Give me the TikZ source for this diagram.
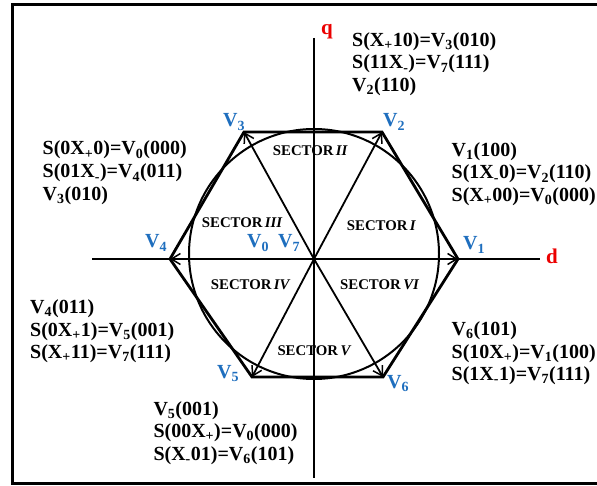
\documentclass[tikz,border=0pt]{standalone}
\usepackage{fontspec}
\setmainfont{Liberation Serif}
\usetikzlibrary{arrows.meta}
\definecolor{vblue}{RGB}{30,110,190}
\definecolor{axred}{RGB}{235,0,0}
\newcommand\sbs[1]{\textsubscript{#1}}
\begin{document}
\begin{tikzpicture}[x=1pt,y=-1pt,
 eq/.style={anchor=base west, inner sep=0pt, font=\fontsize{20}{22.7}\selectfont\bfseries},
 vlab/.style={anchor=base west, inner sep=0pt, text=vblue, font=\fontsize{20}{20}\selectfont\bfseries},
 sec/.style={anchor=base west, inner sep=0pt, font=\fontsize{14.8}{15}\selectfont\bfseries},
 axlab/.style={text=axred, inner sep=0pt, anchor=base, font=\fontsize{21}{21}\selectfont\bfseries},
 hexedge/.style={line width=2.8pt, line join=miter},
 vec/.style={line width=1.8pt, -{Straight Barb[length=9pt,width=11pt,line width=1.5pt]}},
 axisline/.style={line width=1.4pt},
 frame/.style={line width=3pt}
 ]
\useasboundingbox (0,0) rectangle (597,486);
\draw[frame] (600,4.5) -- (12,4.5) -- (12,483.5) -- (600,483.5);

\coordinate (O) at (314,259);
\coordinate (v1) at (458,259);
\coordinate (v2) at (382,132);
\coordinate (v3) at (244,132);
\coordinate (v4) at (170,259);
\coordinate (v5) at (252,377);
\coordinate (v6) at (383,377);
\coordinate (dL) at (92,259);
\coordinate (dR) at (540,259);
\coordinate (qT) at (314,38);
\coordinate (qB) at (314,478);

\draw[axisline] (dL) -- (dR);
\draw[axisline] (qT) -- (qB);
\draw[line width=2pt] (314,254) circle[radius=125];
\draw[hexedge] (v1) -- (v2) -- (v3) -- (v4) -- (v5) -- (v6) -- cycle;
\foreach \v in {v1,v2,v3,v4,v5,v6} \draw[vec] (O) -- (\v);

\node[axlab] (q) at (327,35) {q};
\node[axlab] (d) at (552,264) {d};

\node[vlab] (l1) at (463,250) {V\sbs{1}};
\node[vlab] (l2) at (383,127) {V\sbs{2}};
\node[vlab] (l3) at (223,127) {V\sbs{3}};
\node[vlab] (l4) at (145,248) {V\sbs{4}};
\node[vlab] (l5) at (217,378) {V\sbs{5}};
\node[vlab] (l6) at (387,388) {V\sbs{6}};
\node[vlab] (l0) at (247,248) {V\sbs{0}};
\node[vlab] (l7) at (278,248) {V\sbs{7}};

\node[sec] (s1) at (346.7,230.5) {SECTOR\,\textit{I}};
\node[sec] (s2) at (272.7,156) {SECTOR\,\textit{II}};
\node[sec] (s3) at (201.7,228) {SECTOR\,\textit{III}};
\node[sec] (s4) at (210.7,290) {SECTOR\,\textit{IV}};
\node[sec] (s5) at (277.3,355) {SECTOR\,\textit{V}};
\node[sec] (s6) at (340,290) {SECTOR\,\textit{VI}};

% top block
\node[eq] (a1) at (352,46.5) {S(X\sbs{+}10)=V\sbs{3}(010)};
\node[eq] (a2) at (352,69) {S(11X\sbs{-})=V\sbs{7}(111)};
\node[eq] (a3) at (352,91.5) {V\sbs{2}(110)};
% upper left
\node[eq] (b1) at (42.5,155) {S(0X\sbs{+}0)=V\sbs{0}(000)};
\node[eq] (b2) at (42.5,178) {S(01X\sbs{-})=V\sbs{4}(011)};
\node[eq] (b3) at (42.5,200.5) {V\sbs{3}(010)};
% upper right
\node[eq] (c1) at (451.5,156.5) {V\sbs{1}(100)};
\node[eq] (c2) at (451.5,179) {S(1X\sbs{-}0)=V\sbs{2}(110)};
\node[eq] (c3) at (451.5,201.5) {S(X\sbs{+}00)=V\sbs{0}(000)};
% lower left
\node[eq] (e1) at (30,313) {V\sbs{4}(011)};
\node[eq] (e2) at (30,336) {S(0X\sbs{+}1)=V\sbs{5}(001)};
\node[eq] (e3) at (30,358.5) {S(X\sbs{+}11)=V\sbs{7}(111)};
% lower right
\node[eq] (f1) at (451.5,335) {V\sbs{6}(101)};
\node[eq] (f2) at (451.5,358) {S(10X\sbs{+})=V\sbs{1}(100)};
\node[eq] (f3) at (451.5,380.5) {S(1X\sbs{-}1)=V\sbs{7}(111)};
% bottom
\node[eq] (g1) at (153.3,415) {V\sbs{5}(001)};
\node[eq] (g2) at (153.3,437.5) {S(00X\sbs{+})=V\sbs{0}(000)};
\node[eq] (g3) at (153.3,460) {S(X\sbs{-}01)=V\sbs{6}(101)};
\end{tikzpicture}
\end{document}
